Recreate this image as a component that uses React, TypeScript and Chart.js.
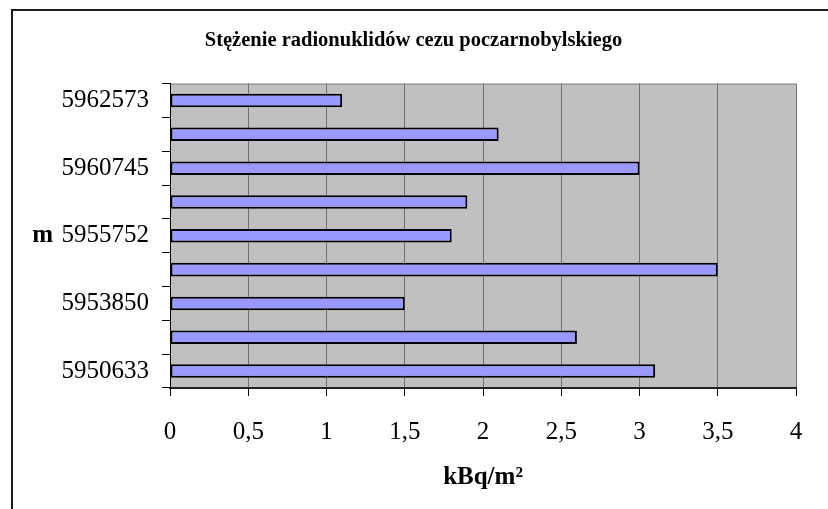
import React, { useEffect, useRef } from 'react';
import { Chart, registerables } from 'chart.js';

Chart.register(...registerables);

const chartTitle = 'Stężenie radionuklidów cezu poczarnobylskiego';
const xAxisTitle = 'kBq/m²';
const yAxisTitle = 'm';
const categories = ['5962573', '', '5960745', '', '5955752', '', '5953850', '', '5950633'];
const values = [1.1, 2.1, 3.0, 1.9, 1.8, 3.5, 1.5, 2.6, 3.1];
const xMin = 0;
const xMax = 4;
const xStep = 0.5;

const FONT = '"Liberation Serif", "Times New Roman", serif';

export default function App() {
  const ref = useRef<HTMLCanvasElement | null>(null);

  useEffect(() => {
    if (!ref.current) return;
    const framePlugin = {
      id: 'framePlugin',
      beforeDraw(chart: any) {
        const { ctx, chartArea } = chart;
        ctx.save();
        ctx.strokeStyle = '#1a1a1a';
        ctx.lineWidth = 2;
        ctx.beginPath();
        ctx.moveTo(12, 509);
        ctx.lineTo(12, 10);
        ctx.lineTo(828, 10);
        ctx.stroke();
        ctx.fillStyle = '#C0C0C0';
        ctx.fillRect(chartArea.left, chartArea.top, chartArea.right - chartArea.left, chartArea.bottom - chartArea.top);
        ctx.strokeStyle = '#808080';
        ctx.lineWidth = 1;
        ctx.beginPath();
        ctx.moveTo(chartArea.left, chartArea.top + 0.5);
        ctx.lineTo(chartArea.right, chartArea.top + 0.5);
        ctx.stroke();
        ctx.restore();
      },
      afterDraw(chart: any) {
        const { ctx } = chart;
        const y = chart.scales.y.getPixelForValue(4);
        ctx.save();
        ctx.font = 'bold 25px ' + FONT;
        ctx.fillStyle = '#000';
        ctx.textAlign = 'right';
        ctx.textBaseline = 'middle';
        ctx.fillText(yAxisTitle, 53, y);
        ctx.restore();
      },
    };

    const chart = new Chart(ref.current, {
      type: 'bar',
      data: {
        labels: categories,
        datasets: [
          {
            data: values,
            backgroundColor: '#9999FF',
            borderColor: '#000',
            borderWidth: 2,
            borderSkipped: false,
            categoryPercentage: 1,
            barPercentage: 0.4,
          },
        ],
      },
      options: {
        indexAxis: 'y',
        responsive: false,
        animation: false,
        layout: { padding: { left: 31, right: 32, top: 0, bottom: 0 } },
        plugins: {
          legend: { display: false },
          tooltip: { enabled: false },
          title: {
            display: true,
            text: chartTitle,
            color: '#000',
            font: { family: FONT, size: 20.5, weight: 'bold' },
            padding: { top: 28, bottom: 31 },
          },
        },
        scales: {
          x: {
            min: xMin,
            max: xMax,
            ticks: {
              stepSize: xStep,
              color: '#000',
              font: { family: FONT, size: 25 },
              padding: 21,
              maxRotation: 0,
              callback: (v: any) => String(v).replace('.', ','),
            },
            grid: {
              color: '#707070',
              lineWidth: 1,
              tickColor: '#000',
              tickLength: 8,
            },
            border: { display: true, color: '#222', width: 2 },
            title: {
              display: true,
              text: xAxisTitle,
              color: '#000',
              font: { family: FONT, size: 25, weight: 'bold' },
              padding: { top: 0, bottom: 16 },
            },
            afterFit: (axis: any) => {
              axis.height = 121;
            },
          },
          y: {
            ticks: {
              autoSkip: false,
              color: '#000',
              font: { family: FONT, size: 25 },
              padding: 13,
              callback: (_v: any, i: number) => categories[i],
            },
            grid: {
              drawOnChartArea: false,
              drawTicks: true,
              tickLength: 8,
              color: '#000',
              tickColor: '#000',
            },
            border: { display: true, color: '#000', width: 1 },
            afterFit: (axis: any) => {
              axis.width = 139;
            },
          },
        },
      },
      plugins: [framePlugin],
    } as any);
    return () => chart.destroy();
  }, []);

  return (
    <div style={{ position: 'absolute', left: 0, top: 0, width: 828, height: 509, background: '#fff' }}>
      <canvas ref={ref} width={828} height={509} style={{ display: 'block' }} />
    </div>
  );
}
